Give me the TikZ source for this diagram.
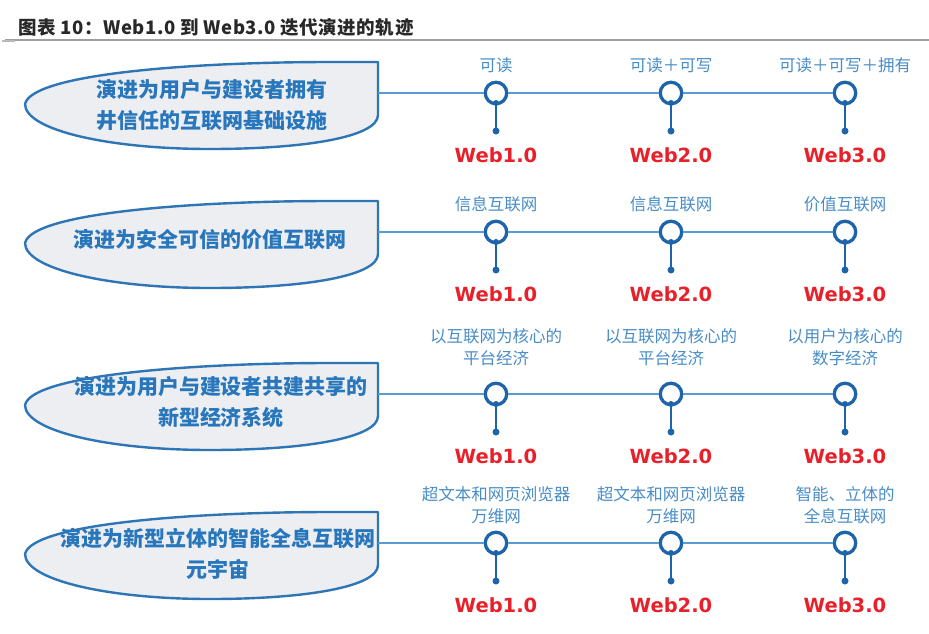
\documentclass[tikz,border=0pt]{standalone}
\usepackage{fontspec}
\setmainfont{Noto Sans CJK SC}
\newfontfamily\webfont{DejaVu Sans}
\definecolor{edgeblue}{RGB}{46,117,182}
\definecolor{shapefill}{RGB}{236,238,241}
\definecolor{shapetext}{RGB}{40,118,188}
\definecolor{lineblue}{RGB}{90,156,210}
\definecolor{ringblue}{RGB}{30,100,170}
\definecolor{labelblue}{RGB}{72,140,198}
\definecolor{webred}{RGB}{232,32,42}
\definecolor{titlegray}{RGB}{40,40,40}
\tikzset{
  leaf/.style={draw=edgeblue, line width=2.4pt, fill=shapefill, line join=round},
  leaftext/.style={text=shapetext, align=center, font=\fontsize{21}{31}\selectfont\bfseries},
  ring/.style={circle, draw=ringblue, line width=3.3pt, fill=white, minimum size=21.5pt, inner sep=0pt},
  blob/.style={circle, fill=ringblue, minimum size=6pt, inner sep=0pt},
  dotn/.style={circle, fill=ringblue, minimum size=7pt, inner sep=0pt},
  tline/.style={draw=lineblue, line width=2.4pt},
  stem/.style={draw=ringblue, line width=2.2pt},
  toplabel/.style={text=labelblue, align=center, font=\fontsize{16.5}{21.5}\selectfont},
  weblabel/.style={text=webred, font=\webfont\fontsize{19.5}{22}\selectfont\bfseries, inner sep=0pt},
}
\newcommand\leafpath[1]{%
  \draw[leaf] (378,#1-31) -- (378,#1+22)
    .. controls (378,#1+44) and (305,#1+56) .. (210,#1+56)
    .. controls (108,#1+56) and (25,#1+37) .. (25,#1+11)
    .. controls (32,#1-20) and (200,#1-31) .. (330,#1-31) -- cycle;}
\newcommand\rowline[2]{% #1 row id, #2 line y
  \coordinate (s#1) at (378,#2);
  \foreach \i/\x in {1/496,2/671,3/845}{
    \node[ring] (c#1\i) at (\x,#2) {};
    \node[blob] (b#1\i) at (\x,#2+10) {};
    \node[dotn] (d#1\i) at (\x,#2+38) {};
    \node[weblabel] (w#1\i) at (\x,#2+62) {Web\i.0};
    \draw[stem] (c#1\i.south) -- (d#1\i.center);
  }
  \draw[tline] (s#1) -- (c#11);
  \draw[tline] (c#11) -- (c#12);
  \draw[tline] (c#12) -- (c#13);
}
\begin{document}
\begin{tikzpicture}[x=1pt,y=-1pt]
\useasboundingbox (0,0) rectangle (929,633);
% title
\node[anchor=west, text=titlegray, inner sep=0pt, font=\fontsize{18.5}{22}\selectfont\bfseries\addfontfeatures{LetterSpace=3}] (title) at (18,27) {图表 10：Web1.0 到 Web3.0 迭代演进的轨迹};
\coordinate (r0) at (5,40);
\coordinate (r1) at (929,40);
\draw[gray!75, line width=1.3pt] (r0) -- (r1);
\coordinate (q0) at (2,41);
\coordinate (q1) at (15,41);
\draw[gray!110!black!60, line width=2pt] (q0) -- (q1);

% row 1
\leafpath{93}
\node[leaftext] (t1) at (212,105) {演进为用户与建设者拥有\\井信任的互联网基础设施};
\rowline{1}{93}
\node[toplabel] (l11) at (496,65) {可读};
\node[toplabel] (l12) at (671,65) {可读＋可写};
\node[toplabel] (l13) at (845,65) {可读＋可写＋拥有};

% row 2
\leafpath{232}
\node[leaftext] (t2) at (210,240) {演进为安全可信的价值互联网};
\rowline{2}{232}
\node[toplabel] (l21) at (496,204) {信息互联网};
\node[toplabel] (l22) at (671,204) {信息互联网};
\node[toplabel] (l23) at (845,204) {价值互联网};

% row 3
\leafpath{394}
\node[leaftext] (t3) at (221,402) {演进为用户与建设者共建共享的\\新型经济系统};
\rowline{3}{394}
\node[toplabel] (l31) at (496,347) {以互联网为核心的\\平台经济};
\node[toplabel] (l32) at (671,347) {以互联网为核心的\\平台经济};
\node[toplabel] (l33) at (845,347) {以用户为核心的\\数字经济};

% row 4
\leafpath{543}
\node[leaftext] (t4) at (218,554) {演进为新型立体的智能全息互联网\\元宇宙};
\rowline{4}{543}
\node[toplabel] (l41) at (496,505) {超文本和网页浏览器\\万维网};
\node[toplabel] (l42) at (671,505) {超文本和网页浏览器\\万维网};
\node[toplabel] (l43) at (845,505) {智能、立体的\\全息互联网};
\end{tikzpicture}
\end{document}
